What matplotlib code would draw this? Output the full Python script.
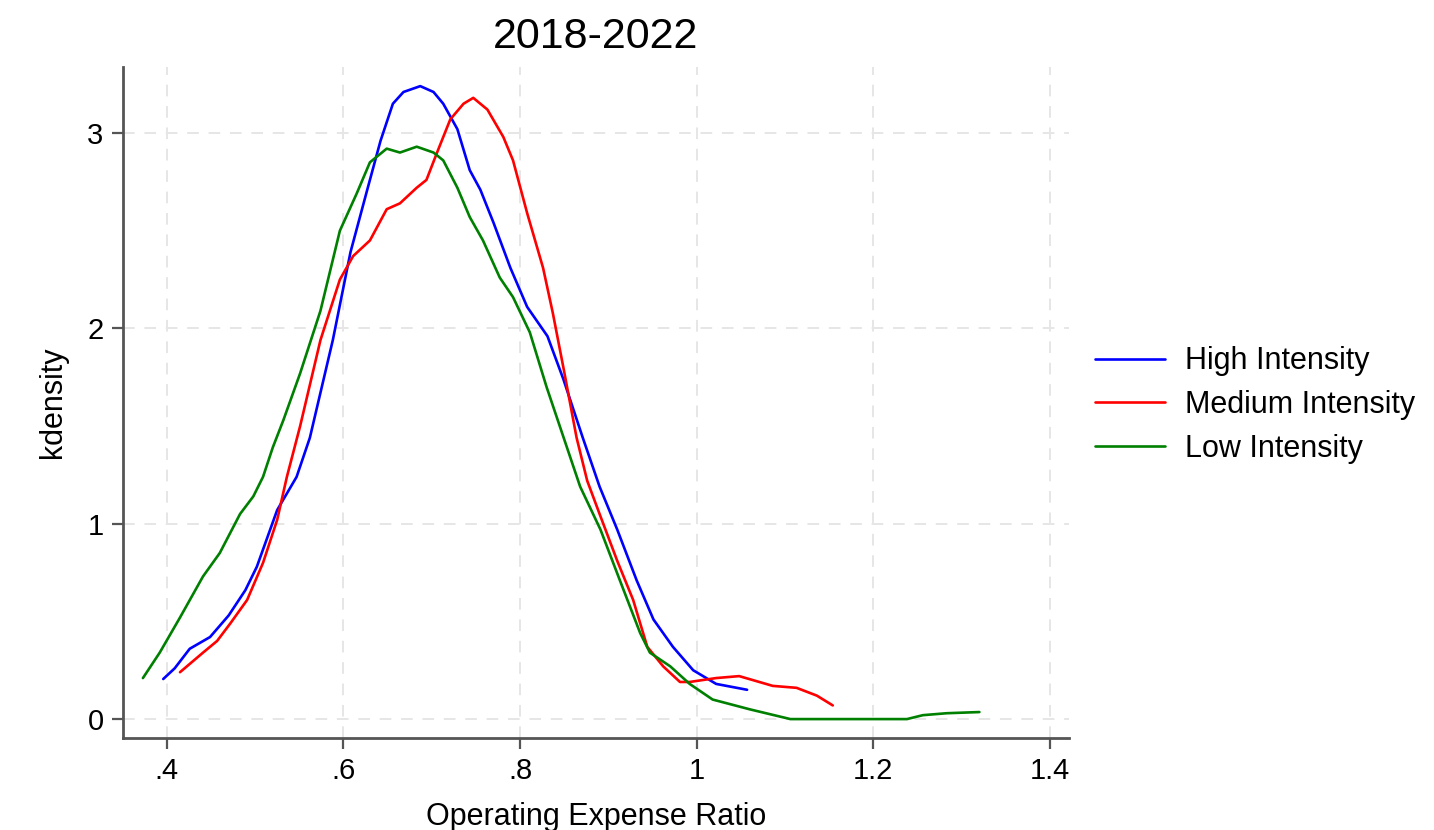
import matplotlib.pyplot as plt

plt.rcParams['font.family'] = ['Liberation Sans', 'DejaVu Sans']

# ───────────────────────────────────────────────
# Kernel density curves (operating expense ratio, 2018-2022)
# ───────────────────────────────────────────────
high_x = [0.396, 0.409, 0.426, 0.449, 0.470, 0.489, 0.502, 0.525, 0.547, 0.562,
          0.588, 0.608, 0.627, 0.642, 0.656, 0.668, 0.687, 0.702, 0.713, 0.729,
          0.743, 0.755, 0.770, 0.789, 0.808, 0.831, 0.849, 0.871, 0.890, 0.910,
          0.932, 0.951, 0.973, 0.996, 1.022, 1.057]
high_y = [0.205, 0.26, 0.36, 0.42, 0.53, 0.66, 0.78, 1.07, 1.24, 1.44,
          1.94, 2.39, 2.71, 2.96, 3.15, 3.21, 3.24, 3.21, 3.15, 3.02,
          2.81, 2.71, 2.54, 2.31, 2.11, 1.96, 1.74, 1.44, 1.19, 0.97,
          0.71, 0.51, 0.37, 0.25, 0.18, 0.15]

med_x = [0.415, 0.441, 0.457, 0.472, 0.491, 0.509, 0.525, 0.536, 0.551, 0.574,
         0.596, 0.611, 0.630, 0.649, 0.664, 0.683, 0.694, 0.706, 0.721, 0.736,
         0.747, 0.763, 0.781, 0.792, 0.808, 0.826, 0.837, 0.849, 0.864, 0.876,
         0.890, 0.910, 0.928, 0.944, 0.962, 0.981, 0.992, 1.022, 1.048, 1.086,
         1.113, 1.136, 1.154]
med_y = [0.24, 0.34, 0.40, 0.49, 0.61, 0.80, 1.02, 1.24, 1.50, 1.94,
         2.25, 2.37, 2.45, 2.61, 2.64, 2.72, 2.76, 2.90, 3.07, 3.15,
         3.18, 3.12, 2.98, 2.86, 2.59, 2.31, 2.08, 1.80, 1.44, 1.22,
         1.05, 0.81, 0.61, 0.37, 0.27, 0.19, 0.19, 0.21, 0.22, 0.17,
         0.16, 0.12, 0.07]

low_x = [0.373, 0.392, 0.415, 0.441, 0.460, 0.483, 0.498, 0.509, 0.520, 0.532,
         0.551, 0.574, 0.596, 0.615, 0.630, 0.649, 0.664, 0.683, 0.702, 0.713,
         0.729, 0.743, 0.758, 0.777, 0.792, 0.811, 0.830, 0.868, 0.891, 0.913,
         0.936, 0.947, 0.970, 0.992, 1.018, 1.060, 1.106, 1.238, 1.256, 1.283,
         1.320]
low_y = [0.21, 0.34, 0.52, 0.73, 0.85, 1.05, 1.14, 1.24, 1.39, 1.53,
         1.77, 2.09, 2.50, 2.69, 2.85, 2.92, 2.90, 2.93, 2.90, 2.86,
         2.72, 2.57, 2.45, 2.26, 2.16, 1.98, 1.70, 1.19, 0.97, 0.71,
         0.44, 0.34, 0.27, 0.18, 0.10, 0.05, 0.0, 0.0, 0.02, 0.03,
         0.036]

labels = ['High Intensity', 'Medium Intensity', 'Low Intensity']
colors = ['#0000ff', '#ff0000', '#008000']

x_ticks = [0.4, 0.6, 0.8, 1.0, 1.2, 1.4]
x_tick_labels = ['.4', '.6', '.8', '1', '1.2', '1.4']
y_ticks = [0, 1, 2, 3]

# ───────────────────────────────────────────────
# Plot
# ───────────────────────────────────────────────
fig = plt.figure(figsize=(14.34, 8.3), dpi=100)
ax = fig.add_axes([0.0858, 0.1108, 0.6597, 0.8085])

for xs, ys, lab, c in zip([high_x, med_x, low_x], [high_y, med_y, low_y], labels, colors):
    ax.plot(xs, ys, color=c, lw=1.9, label=lab,
            solid_joinstyle='round', solid_capstyle='round')

ax.set_xlim(0.3505, 1.4215)
ax.set_ylim(-0.097, 3.338)
ax.set_xticks(x_ticks)
ax.set_xticklabels(x_tick_labels)
ax.set_yticks(y_ticks)

ax.grid(True, color='#e6e6e6', ls=(0, (6, 5)), lw=1.4)
ax.set_axisbelow(True)
for side in ('top', 'right'):
    ax.spines[side].set_visible(False)
for side in ('left', 'bottom'):
    ax.spines[side].set_color('#555555')
    ax.spines[side].set_linewidth(2.0)
ax.tick_params(direction='out', length=8, width=1.6, color='#555555',
               labelsize=21, pad=6)

ax.set_xlabel('Operating Expense Ratio', fontsize=22, labelpad=12)
ax.set_ylabel('kdensity', fontsize=22, labelpad=14)
fig.text(0.4156, 0.955, '2018-2022', fontsize=31, ha='center', va='center')

fig.legend(loc='center left', bbox_to_anchor=(1095 / 1434, 1 - 405 / 830),
           frameon=False, fontsize=22, handlelength=2.3, handletextpad=0.65,
           labelspacing=0.45, borderpad=0, borderaxespad=0)

fig.savefig('out.png', dpi=100)
